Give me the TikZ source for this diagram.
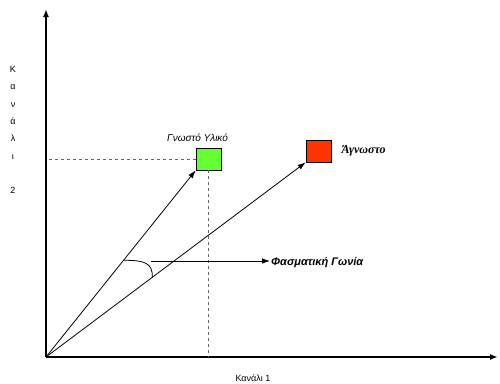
\documentclass[tikz,border=0pt]{standalone}
\usepackage{fontspec}
\setmainfont{Liberation Sans}
\newfontfamily\greekserif{Liberation Serif}
\usetikzlibrary{arrows.meta,positioning,calc}
\definecolor{knowngreen}{HTML}{66FF33}
\definecolor{unknownred}{HTML}{FF3300}
\begin{document}
\begin{tikzpicture}[
  x=1pt, y=-1pt,
  axis/.style={line width=1.6pt, -{Latex[length=8pt,width=6pt]}},
  vector/.style={line width=0.8pt, -{Latex[length=8pt,width=5.5pt]}},
  guide/.style={dash pattern=on 3pt off 3pt, line width=0.8pt, black!60},
  sample/.style={draw, line width=0.7pt, minimum width=25pt, minimum height=22pt, inner sep=0pt},
  tag/.style={font=\fontsize{10}{11}\selectfont\itshape, inner sep=1pt},
  axislabel/.style={font=\fontsize{9}{10}\selectfont, inner sep=0pt}
]
\useasboundingbox (0,0) rectangle (500,383);
% axes
\coordinate (O) at (46,357);
\coordinate (ytip) at (46,9);
\coordinate (xtip) at (498,357);
\draw[axis] (O) -- (ytip);
\draw[axis] (O) -- (xtip);
% samples
\node[sample, fill=knowngreen] (known) at (208.5,159) {};
\node[sample, fill=unknownred] (unknown) at (318.5,151) {};
\node[tag, above=5pt of known, xshift=-11pt] (knownlabel) {Γνωστό Υλικό};
\node[tag, right=9pt of unknown, font=\fontsize{12}{13}\selectfont\greekserif\bfseries\itshape] (unknownlabel) {Άγνωστο};
% guides to the axes
\draw[guide] (known.west) -- (O |- known.west);
\draw[guide] (known.south) -- (known.south |- O);
% vectors
\draw[vector] (O) -- (known.south west);
\draw[vector] (O) -- (unknown.south west);
% spectral angle
\coordinate (a1) at ($(O)!124pt!(known.south west)$);
\coordinate (a2) at ($(O)!133pt!(unknown.south west)$);
\draw[line width=0.8pt] (a1) .. controls ($(a1)+(22,0)$) and ($(a2)+(0,-14)$) .. (a2);
\coordinate (ap) at (151,261);
\node[tag, font=\fontsize{11}{12}\selectfont\bfseries\itshape, anchor=west] (angle) at (270,263) {Φασματική Γωνία};
\draw[vector] (ap) -- (ap -| angle.west);
% axis labels
\node[axislabel] (xlabel) at (253,378) {Κανάλι 1};
\node[axislabel, align=center, font=\fontsize{9}{17.3}\selectfont] (ylabel) at (13,130) {Κ\\α\\ν\\ά\\λ\\ι\\[17.3pt]2};
\end{tikzpicture}
\end{document}
